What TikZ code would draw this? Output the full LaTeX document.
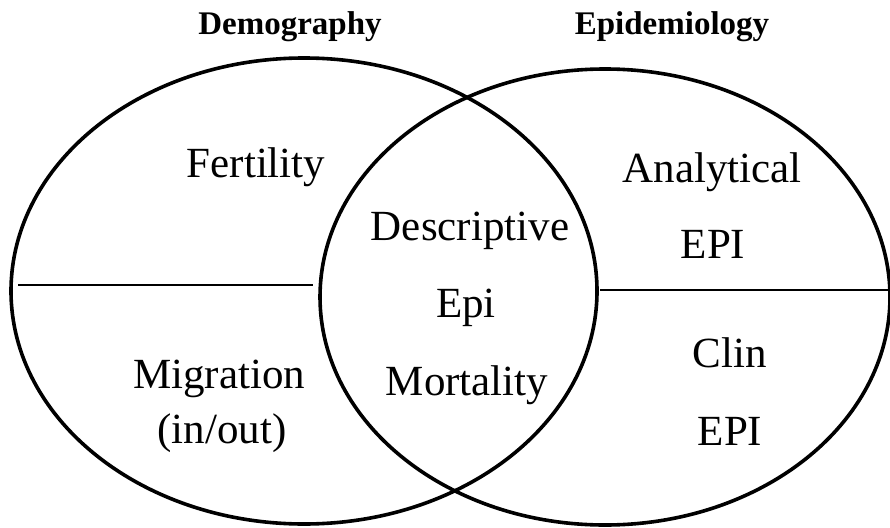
\documentclass[tikz,border=0pt]{standalone}
\usepackage{fontspec}
\setmainfont{Liberation Serif}
\usetikzlibrary{shapes.geometric}
\tikzset{
  field/.style={
    draw, ellipse, line width=3.6pt, inner sep=0pt
  },
  region/.style={
    font=\fontsize{43}{43}\selectfont, anchor=base, inner sep=0pt
  },
  heading/.style={
    font=\fontsize{33}{33}\selectfont\bfseries, anchor=base, inner sep=0pt
  },
  divider/.style={line width=2.2pt}
}

\begin{document}
\begin{tikzpicture}[x=1pt, y=-1pt]
  \useasboundingbox (0,0) rectangle (890,527);

  % the two fields
  \node[field, minimum width=586pt, minimum height=466pt] (demo) at (304,291) {};
  \node[field, minimum width=570pt, minimum height=456pt] (epid) at (605,297) {};

  \draw[divider] (18,285) -- (313,285);
  \draw[divider] (600,290) -- (890,290);

  \node[heading] (demotitle) at (290,35) {Demography};
  \node[heading] (epidtitle) at (672,35) {Epidemiology};

  \node[region] (fert) at (256,177) {Fertility};
  \node[region] (migr) at (219,388) {Migration};
  \node[region] (inout) at (222,443) {(in/out)};

  \node[region] (desc) at (470,240) {Descriptive};
  \node[region] (epimid) at (466,317) {Epi};
  \node[region] (mort) at (467,395) {Mortality};

  \node[region] (anal) at (712,182) {Analytical};
  \node[region] (epitop) at (713,258) {EPI};
  \node[region] (clin) at (730,367) {Clin};
  \node[region] (epibot) at (730,445) {EPI};
\end{tikzpicture}
\end{document}
